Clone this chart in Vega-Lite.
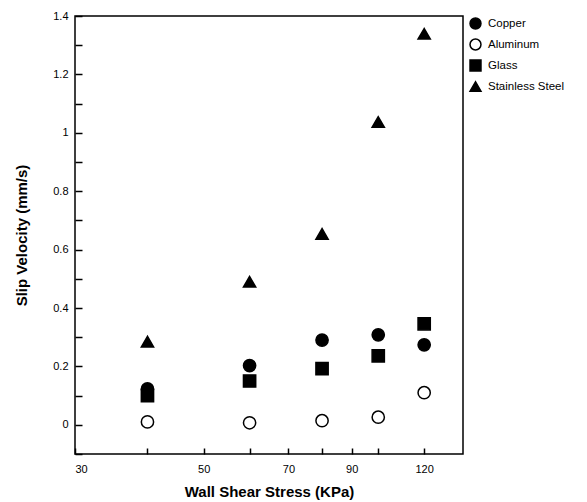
{
  "$schema": "https://vega.github.io/schema/vega-lite/v6.json",
  "width": 388,
  "height": 438,
  "autosize": {"type": "none"},
  "padding": {"left": 75, "top": 16, "right": 124, "bottom": 48},
  "background": "white",
  "config": {
    "view": {"stroke": "black", "strokeWidth": 1.5},
    "font": "Liberation Sans",
    "axis": {
      "grid": false,
      "domain": false,
      "ticks": true,
      "tickColor": "black",
      "tickWidth": 1.5,
      "labelColor": "black",
      "labelFont": "Liberation Sans",
      "labelFontSize": 11,
      "titleFont": "Liberation Sans",
      "titleFontSize": 15,
      "titleFontWeight": "bold",
      "titleColor": "black"
    },
    "legend": {
      "labelFont": "Liberation Sans",
      "labelFontSize": 11.5,
      "labelColor": "black"
    }
  },
  "data": {
    "values": [
      {"stress": 40, "velocity": 0.123, "material": "Copper"},
      {"stress": 60, "velocity": 0.203, "material": "Copper"},
      {"stress": 80, "velocity": 0.29, "material": "Copper"},
      {"stress": 100, "velocity": 0.308, "material": "Copper"},
      {"stress": 120, "velocity": 0.274, "material": "Copper"},
      {"stress": 40, "velocity": 0.01, "material": "Aluminum"},
      {"stress": 60, "velocity": 0.007, "material": "Aluminum"},
      {"stress": 80, "velocity": 0.014, "material": "Aluminum"},
      {"stress": 100, "velocity": 0.026, "material": "Aluminum"},
      {"stress": 120, "velocity": 0.11, "material": "Aluminum"},
      {"stress": 40, "velocity": 0.1, "material": "Glass"},
      {"stress": 60, "velocity": 0.15, "material": "Glass"},
      {"stress": 80, "velocity": 0.192, "material": "Glass"},
      {"stress": 100, "velocity": 0.236, "material": "Glass"},
      {"stress": 120, "velocity": 0.346, "material": "Glass"},
      {"stress": 40, "velocity": 0.285, "material": "Stainless Steel"},
      {"stress": 60, "velocity": 0.49, "material": "Stainless Steel"},
      {"stress": 80, "velocity": 0.654, "material": "Stainless Steel"},
      {"stress": 100, "velocity": 1.037, "material": "Stainless Steel"},
      {"stress": 120, "velocity": 1.339, "material": "Stainless Steel"}
    ]
  },
  "mark": {"type": "point", "filled": false, "stroke": "black", "strokeWidth": 1.5, "opacity": 1, "size": 150},
  "encoding": {
    "x": {
      "field": "stress",
      "type": "quantitative",
      "scale": {"type": "log", "domain": [30, 140], "nice": false},
      "axis": {
        "title": "Wall Shear Stress (KPa)",
        "values": [30, 40, 50, 60, 70, 80, 90, 100, 120],
        "format": "d",
        "labelExpr": "(datum.value == 30 || datum.value == 50 || datum.value == 70 || datum.value == 90 || datum.value == 120) ? datum.label : ''",
        "offset": -6,
        "tickSize": 6,
        "labelPadding": 9,
        "titlePadding": 10
      }
    },
    "y": {
      "field": "velocity",
      "type": "quantitative",
      "scale": {"domain": [-0.1, 1.4], "nice": false, "zero": false},
      "axis": {
        "title": "Slip Velocity (mm/s)",
        "values": [-0.1, 0, 0.1, 0.2, 0.3, 0.4, 0.5, 0.6, 0.7, 0.8, 0.9, 1, 1.1, 1.2, 1.3, 1.4],
        "format": "~g",
        "labelExpr": "round(datum.value*10) % 2 === 0 ? datum.label : ''",
        "offset": -7,
        "tickSize": 7,
        "labelPadding": 7,
        "titlePadding": 23
      }
    },
    "shape": {
      "field": "material",
      "type": "nominal",
      "scale": {
        "domain": ["Copper", "Aluminum", "Glass", "Stainless Steel"],
        "range": ["circle", "circle", "square", "triangle-up"]
      },
      "legend": {
        "title": null,
        "orient": "none",
        "legendX": 394,
        "legendY": 1,
        "symbolSize": 120,
        "symbolStrokeWidth": 1.5,
        "rowPadding": 4,
        "labelOffset": 6
      }
    },
    "fill": {
      "field": "material",
      "type": "nominal",
      "scale": {
        "domain": ["Copper", "Aluminum", "Glass", "Stainless Steel"],
        "range": ["black", "white", "black", "black"]
      },
      "legend": {
        "title": null,
        "orient": "none",
        "legendX": 394,
        "legendY": 1,
        "symbolSize": 120,
        "symbolStrokeWidth": 1.5,
        "rowPadding": 4,
        "labelOffset": 6
      }
    }
  }
}
